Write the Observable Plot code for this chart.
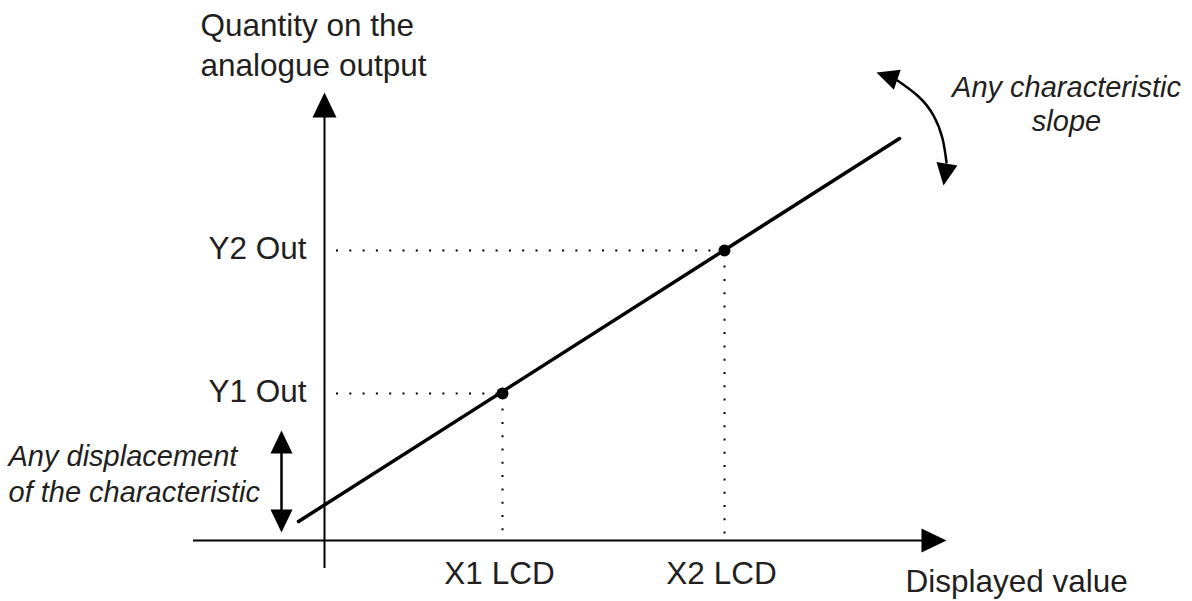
<!DOCTYPE html>
<html>
<head>
<meta charset="utf-8">
<script src="https://cdn.jsdelivr.net/npm/d3@7"></script>
<script src="https://cdn.jsdelivr.net/npm/@observablehq/plot@0.6"></script>
<style>
  html, body { margin: 0; padding: 0; background: #fff; }
  #chart svg { display: block; }
</style>
</head>
<body>
<div id="chart"></div>
<script>
// ---- Data (chart units: 1 unit on each axis) ----
const pointX = [1.78, 4.0];                 // X1 LCD, X2 LCD
const pointY = [1.47, 2.90];                // Y1 Out, Y2 Out
const xTickLabels = ["X1 LCD", "X2 LCD"];
const yTickLabels = ["Y1 Out", "Y2 Out"];
const characteristicX = [-0.26, 5.75];
const characteristicY = [0.19, 4.02];
const xAxisExtent = [-1.31, 6.22];
const yAxisExtent = [-0.28, 4.48];
const displacementX = -0.43;
const displacementExtent = [0.08, 1.10];
const slopeArcX = [5.73, 5.94, 6.09, 6.18, 6.22];
const slopeArcY = [4.60, 4.44, 4.25, 4.02, 3.78];
const slopeHeadX = [5.52, 6.19];
const slopeHeadY = [4.68, 3.55];
const slopeHeadAngle = [-71, 189];
const yAxisTitle = "Quantity on the\nanalogue output";
const xAxisTitle = "Displayed value";
const displacementNote = "Any displacement\nof the characteristic";
const slopeNote = "Any characteristic\nslope";

const ink = "#231f20";
const font = "Liberation Sans, Arial, sans-serif";
const fs = 31.5;

// arrowhead symbol: tip at the anchor, pointing up
const arrowHead = {
  draw(context, size) {
    const len = Math.sqrt(size / Math.PI) * 2;
    const hw = len * 0.48;
    context.moveTo(0, 0);
    context.lineTo(hw, len);
    context.lineTo(-hw, len);
    context.closePath();
  }
};

const points = pointX.map((x, i) => ({x, y: pointY[i], xl: xTickLabels[i], yl: yTickLabels[i]}));
const characteristic = characteristicX.map((x, i) => ({x, y: characteristicY[i]}));
const arc = slopeArcX.map((x, i) => ({x, y: slopeArcY[i]}));
const slopeHeads = slopeHeadX.map((x, i) => ({x, y: slopeHeadY[i], r: slopeHeadAngle[i]}));

const chart = Plot.plot({
  width: 1192,
  height: 601,
  margin: 0,
  style: {fontFamily: font, background: "white"},
  x: {domain: [-3.24, 8.68], axis: null},
  y: {domain: [-0.61, 5.40], axis: null},
  marks: [
    // dotted guides
    Plot.ruleY(points, {y: "y", x1: 0.12, x2: "x", stroke: "black", strokeWidth: 2, strokeDasharray: "2 11.3"}),
    Plot.ruleX(points, {x: "x", y1: "y", y2: 0.04, stroke: "black", strokeWidth: 2, strokeDasharray: "2 11.3", strokeDashoffset: 11}),
    // axes
    Plot.ruleY([0], {x1: xAxisExtent[0], x2: xAxisExtent[1] - 0.2, stroke: "black", strokeWidth: 2}),
    Plot.ruleX([0], {y1: yAxisExtent[0], y2: yAxisExtent[1] - 0.2, stroke: "black", strokeWidth: 2}),
    Plot.dot([{x: xAxisExtent[1], y: 0}], {x: "x", y: "y", symbol: arrowHead, r: 12.5, fill: "black", stroke: null, rotate: 90}),
    Plot.dot([{x: 0, y: yAxisExtent[1]}], {x: "x", y: "y", symbol: arrowHead, r: 12.5, fill: "black", stroke: null, rotate: 0}),
    // characteristic line
    Plot.line(characteristic, {x: "x", y: "y", stroke: "black", strokeWidth: 3.5}),
    Plot.dot(points, {x: "x", y: "y", r: 6, fill: "black", stroke: null}),
    // displacement double arrow
    Plot.ruleX([displacementX], {y1: displacementExtent[0] + 0.2, y2: displacementExtent[1] - 0.2, stroke: "black", strokeWidth: 2.5}),
    Plot.dot([{x: displacementX, y: displacementExtent[1], r: 0}, {x: displacementX, y: displacementExtent[0], r: 180}],
      {x: "x", y: "y", symbol: arrowHead, r: 11.5, fill: "black", stroke: null, rotate: "r"}),
    // slope curved arrow
    Plot.line(arc, {x: "x", y: "y", curve: "natural", stroke: "black", strokeWidth: 2.5}),
    Plot.dot(slopeHeads, {x: "x", y: "y", symbol: arrowHead, r: 11, fill: "black", stroke: null, rotate: "r"}),
    // tick labels
    Plot.text(points, {x: -0.18, y: "y", text: "yl", textAnchor: "end", fontSize: fs, fontFamily: font, fill: ink, dy: -2}),
    Plot.text(points, {x: "x", y: -0.43, text: "xl", textAnchor: "middle", lineAnchor: "bottom", fontSize: fs, fontFamily: font, fill: ink, dx: -3}),
    // axis titles
    Plot.text([yAxisTitle], {x: -1.24, y: 4.65, text: d => d, textAnchor: "start", lineAnchor: "bottom", lineHeight: 1.24, fontSize: fs, fontFamily: font, fill: ink}),
    Plot.text([xAxisTitle], {x: 5.81, y: -0.517, text: d => d, textAnchor: "start", lineAnchor: "bottom", fontSize: fs, fontFamily: font, fill: ink}),
    // notes
    Plot.text([displacementNote], {x: -3.16, y: 0.383, text: d => d, textAnchor: "start", lineAnchor: "bottom", lineHeight: 1.265, fontSize: 29, fontFamily: font, fontStyle: "italic", fill: ink}),
    Plot.text([slopeNote], {x: 7.42, y: 4.10, text: d => d, textAnchor: "middle", lineAnchor: "bottom", lineHeight: 1.15, fontSize: 29, fontFamily: font, fontStyle: "italic", fill: ink})
  ]
});
document.getElementById("chart").append(chart);
</script>
</body>
</html>
